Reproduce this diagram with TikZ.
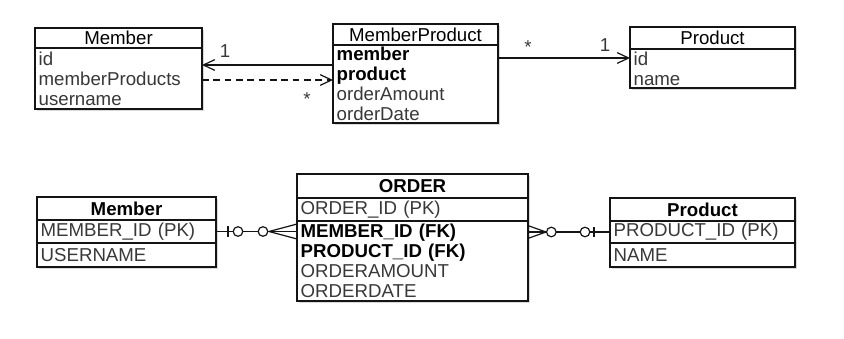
\documentclass[tikz,border=0pt]{standalone}
\usepackage{fontspec}
\setmainfont{Liberation Sans}
\usetikzlibrary{arrows.meta, decorations.markings, positioning, shadows}
\definecolor{erGrey}{HTML}{383838}
\definecolor{erInk}{HTML}{141414}
\newcommand{\boxsize}{\fontsize{14}{15}\selectfont}
\newcommand{\keyrow}[1]{\textcolor{black}{\textbf{#1}}}
\tikzset{
  boxshadow/.style = {drop shadow={shadow xshift=1.2pt, shadow yshift=-1.2pt, opacity=0.3}},
  hdr/.style       = {draw=erInk, fill=white, line width=1.2pt, outer sep=0pt,
                      inner xsep=2.75pt, inner ysep=0pt, text width=#1, align=center,
                      anchor=north west, font=\boxsize, boxshadow},
  hdrb/.style      = {hdr=#1, font=\boxsize\bfseries},
  body/.style      = {draw=erInk, fill=white, line width=1.2pt, outer sep=0pt,
                      inner xsep=2.75pt, inner ysep=0pt, text width=#1, align=left,
                      font=\boxsize, text=erGrey, boxshadow},
  assoc/.style     = {erInk, line width=0.9pt},
  navarrow/.style  = {-{Straight Barb[length=8.5pt, width=8pt, line width=0.9pt]}},
  depend/.style    = {dash pattern=on 5pt off 3.5pt},
  lbl/.style       = {font=\boxsize, erGrey, inner sep=0pt},
  rel/.style       = {erInk, line width=0.9pt},
  zeroone start/.style = {postaction={decorate, decoration={markings,
      mark=at position 9pt with {\draw[rel] (0,-3.8pt) -- (0,3.8pt);},
      mark=at position 16.5pt with {\draw[rel, fill=white] (0,0) circle (3.6pt);}}}},
  zeroone end/.style = {postaction={decorate, decoration={markings,
      mark=at position -18.75pt with {\draw[rel, fill=white] (0,0) circle (3.6pt);},
      mark=at position -12pt with {\draw[rel] (0,-3.8pt) -- (0,3.8pt);}}}},
  zeromany start/.style = {postaction={decorate, decoration={markings,
      mark=at position 13.5pt with {\draw[rel] (0,0) -- (-13.5pt,4.8pt) (0,0) -- (-13.5pt,-4.8pt);},
      mark=at position 17.5pt with {\draw[rel, fill=white] (0,0) circle (3.6pt);}}}},
  zeromany end/.style = {postaction={decorate, decoration={markings,
      mark=at position -25.5pt with {\draw[rel, fill=white] (0,0) circle (3.6pt);},
      mark=at position -21pt with {\draw[rel] (0,0) -- (21pt,5.6pt) (0,0) -- (21pt,-5.6pt);}}}},
}

\begin{document}
\begin{tikzpicture}[x=0.75pt, y=-0.75pt]
  \useasboundingbox (0,0) rectangle (844,339);
  % object model
  \node[hdr=119.75pt, minimum height=15pt] (m1h) at (35,28) {Member};
  \node[body=119.75pt, minimum height=45.75pt, below=0pt of m1h] (m1b)
    {id\\memberProducts\\username};
  \node[hdr=118.25pt, minimum height=15.75pt] (mph) at (333,24) {MemberProduct};
  \node[body=118.25pt, minimum height=58.5pt, below=0pt of mph] (mpb)
    {\keyrow{member}\\\keyrow{product}\\orderAmount\\orderDate};
  \node[hdr=118.25pt, minimum height=16.5pt] (p1h) at (630,27) {Product};
  \node[body=118.25pt, minimum height=29.25pt, below=0pt of p1h] (p1b)
    {id\\name};

  \draw[assoc, navarrow] ([yshift=-15pt]mpb.north west) -- ([yshift=-15pt]mpb.north west -| m1b.east);
  \draw[assoc, depend, navarrow] ([yshift=-26.25pt]mpb.north west -| m1b.east) -- ([yshift=-26.25pt]mpb.north west);
  \draw[assoc, navarrow] ([yshift=-9.75pt]mpb.north east) -- ([yshift=-9.75pt]mpb.north east -| p1b.west);
  \node[lbl] (oneM) at (225,51) {1};
  \node[lbl] (manyM) at (307,99) {*};
  \node[lbl] (manyP) at (528,47) {*};
  \node[lbl] (oneP) at (605,45) {1};

  % table model
  \node[hdrb=128.75pt, minimum height=17.25pt] (m2h) at (37,197) {Member};
  \node[body=128.75pt, minimum height=17.25pt, below=0pt of m2h] (m2k) {MEMBER\_ID (PK)};
  \node[body=128.75pt, minimum height=18pt, below=0pt of m2k] (m2c) {USERNAME};
  \node[hdrb=167.75pt, minimum height=18pt] (oh) at (297,174) {ORDER};
  \node[body=167.75pt, minimum height=17.25pt, below=0pt of oh] (ok) {ORDER\_ID (PK)};
  \node[body=167.75pt, minimum height=60pt, below=0pt of ok] (ob)
    {\keyrow{MEMBER\_ID (FK)}\\\keyrow{PRODUCT\_ID (FK)}\\ORDERAMOUNT\\ORDERDATE};
  \node[hdrb=133.25pt, minimum height=17.25pt] (p2h) at (610,198) {Product};
  \node[body=133.25pt, minimum height=16.5pt, below=0pt of p2h] (p2k) {PRODUCT\_ID (PK)};
  \node[body=133.25pt, minimum height=18pt, below=0pt of p2k] (p2c) {NAME};

  \draw[rel, zeroone start, zeromany end] (m2k.east) -- (m2k.east -| ob.west);
  \draw[rel, zeromany start, zeroone end] (p2k.west -| ob.east) -- (p2k.west);
\end{tikzpicture}
\end{document}
